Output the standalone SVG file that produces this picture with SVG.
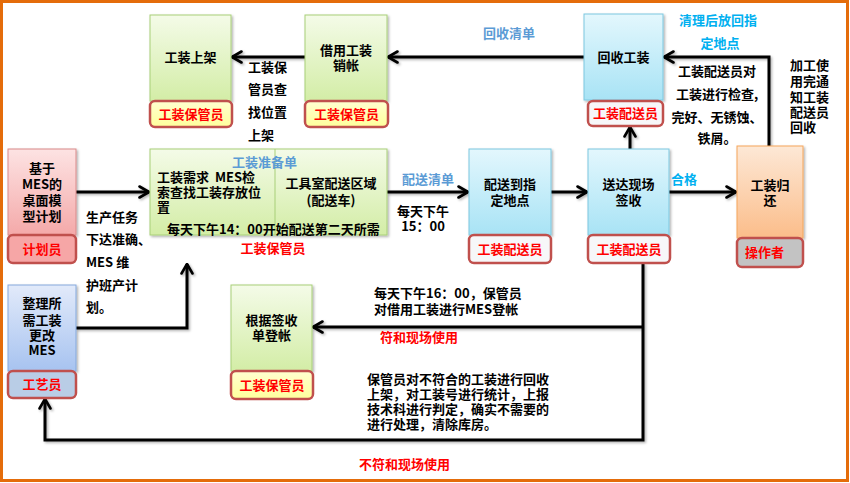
<svg xmlns="http://www.w3.org/2000/svg" width="850" height="483" viewBox="0 0 850 483">
<style>
text{font-family:"Noto Sans CJK SC","Liberation Sans",sans-serif;font-size:13px;font-weight:bold;fill:#000}
.c{text-anchor:middle}
.role{fill:#ff0000;text-anchor:middle}
.red{fill:#ff0000}
.lb{fill:#5b9bd5}
.cb{fill:#00b0f0}
.lbl{stroke:#c0504d;stroke-width:2.5}
.ln{fill:none;stroke:#000;stroke-width:3;marker-end:url(#ah)}
.g{fill:url(#gG);stroke:#a8cf78;stroke-width:1}
.b{fill:url(#gB);stroke:#7cc8e0;stroke-width:1}
.r{fill:url(#gR);stroke:#d98a8a;stroke-width:1}
.v{fill:url(#gV);stroke:#85a8dc;stroke-width:1}
.o{fill:url(#gO);stroke:#f5a65b;stroke-width:1}
</style>
<defs>
<linearGradient id="gG" x1="0" y1="0" x2="0" y2="1"><stop offset="0" stop-color="#f4fbe8"/><stop offset="1" stop-color="#d3eda6"/></linearGradient>
<linearGradient id="gB" x1="0" y1="0" x2="0" y2="1"><stop offset="0" stop-color="#e3f7fd"/><stop offset="1" stop-color="#a8e3f5"/></linearGradient>
<linearGradient id="gR" x1="0" y1="0" x2="0" y2="1"><stop offset="0" stop-color="#fde3e3"/><stop offset="1" stop-color="#f4a9a9"/></linearGradient>
<linearGradient id="gV" x1="0" y1="0" x2="0" y2="1"><stop offset="0" stop-color="#e2eafa"/><stop offset="1" stop-color="#a7c3f0"/></linearGradient>
<linearGradient id="gO" x1="0" y1="0" x2="0" y2="1"><stop offset="0" stop-color="#fde8d6"/><stop offset="1" stop-color="#fbbd8a"/></linearGradient>
<linearGradient id="gY" x1="0" y1="0" x2="0" y2="1"><stop offset="0" stop-color="#ffffd0"/><stop offset="1" stop-color="#ffff9c"/></linearGradient>
<filter id="sh" x="-10%" y="-10%" width="130%" height="130%"><feDropShadow dx="1.5" dy="1.5" stdDeviation="1.2" flood-color="#000" flood-opacity="0.3"/></filter>
<marker id="ah" viewBox="0 0 12 14" refX="11" refY="7" markerWidth="12" markerHeight="14" markerUnits="userSpaceOnUse" orient="auto">
<path d="M1.5,1.5 L11,7 L1.5,12.5" fill="none" stroke="#000" stroke-width="2.6" stroke-linejoin="round" stroke-linecap="round"/>
</marker>
</defs>
<rect x="0" y="0" width="850" height="483" fill="#fff"/>
<rect x="1.5" y="1.5" width="846" height="479" fill="none" stroke="#e46c0a" stroke-width="3"/>

<g id="connectors" filter="url(#sh)">
<path class="ln" d="M584,57 H388"/>
<path class="ln" d="M305,57 H232"/>
<path class="ln" d="M769,146 V57 H664"/>
<path class="ln" d="M630,149 V127"/>
<path class="ln" d="M76,192 H149"/>
<path class="ln" d="M387,192 H468"/>
<path class="ln" d="M551,192 H587"/>
<path class="ln" d="M669,192 H736"/>
<path class="ln" d="M643,263 V440 H45 V399"/>
<path class="ln" d="M643,327 H313"/>
<path class="ln" d="M76,328 H187 V264"/>
</g>

<g id="n-shangjia">
<rect class="g" x="150" y="15" width="81" height="86" filter="url(#sh)"/>
<text class="c" x="190.5" y="62">工装上架</text>
<rect class="lbl" x="150" y="101" width="82" height="26" rx="5" fill="url(#gY)"/>
<text class="role" x="191" y="119">工装保管员</text>
</g>

<g id="n-xiaozhang">
<rect class="g" x="305" y="15" width="82" height="86" filter="url(#sh)"/>
<text class="c" x="346" y="55">借用工装</text>
<text class="c" x="346" y="70">销帐</text>
<rect class="lbl" x="305" y="101" width="83" height="26" rx="5" fill="url(#gY)"/>
<text class="role" x="346.5" y="119">工装保管员</text>
</g>

<g id="n-huishou">
<rect class="b" x="584" y="14" width="79" height="86" filter="url(#sh)"/>
<text class="c" x="623.5" y="62">回收工装</text>
<rect class="lbl" x="588" y="101" width="75" height="25" rx="5" fill="#f7f7f9"/>
<text class="role" x="625.5" y="118">工装配送员</text>
</g>

<g id="n-plan">
<rect class="r" x="8" y="149" width="68" height="86" filter="url(#sh)"/>
<text class="c" x="42" y="173">基于</text>
<text class="c" x="42" y="189">MES的</text>
<text class="c" x="42" y="205">桌面模</text>
<text class="c" x="42" y="221">型计划</text>
<rect class="lbl" x="8" y="235" width="68" height="28" rx="5" fill="#f6a6a6"/>
<text class="role" x="42" y="254">计划员</text>
</g>

<g id="n-zhunbei">
<rect class="g" x="150" y="149" width="237" height="86" filter="url(#sh)"/>
<line x1="275" y1="149" x2="275" y2="235" stroke="#a8cf78" stroke-width="1"/>
<text class="lb" x="232" y="167">工装准备单</text>
<text x="157" y="182">工装需求&#160;&#160;MES检</text>
<text x="157" y="197">索查找工装存放位</text>
<text x="157" y="212">置</text>
<text class="c" x="331" y="188">工具室配送区域</text>
<text class="c" x="331" y="205">(配送车)</text>
<text x="167" y="234">每天下午14：00开始配送第二天所需</text>
<text class="role" x="273" y="253">工装保管员</text>
</g>

<g id="n-peisong">
<rect class="b" x="469" y="149" width="82" height="86" filter="url(#sh)"/>
<text class="c" x="510" y="189">配送到指</text>
<text class="c" x="510" y="205">定地点</text>
<rect class="lbl" x="469" y="235" width="82" height="28" rx="5" fill="#f7f7f9"/>
<text class="role" x="510" y="254">工装配送员</text>
</g>

<g id="n-qianshou">
<rect class="b" x="588" y="149" width="81" height="86" filter="url(#sh)"/>
<text class="c" x="628.5" y="189">送达现场</text>
<text class="c" x="628.5" y="205">签收</text>
<rect class="lbl" x="588" y="235" width="82" height="28" rx="5" fill="#f7f7f9"/>
<text class="role" x="629" y="254">工装配送员</text>
</g>

<g id="n-guihuan">
<rect class="o" x="737" y="146" width="66" height="92" filter="url(#sh)"/>
<text class="c" x="770" y="190">工装归</text>
<text class="c" x="770" y="205">还</text>
<rect class="lbl" x="737" y="238" width="66" height="29" rx="5" fill="#c3c3c3"/>
<text x="745" y="257" class="red">操作者</text>
</g>

<g id="n-gengai">
<rect class="v" x="8" y="285" width="68" height="86" filter="url(#sh)"/>
<text class="c" x="42" y="308">整理所</text>
<text class="c" x="42" y="325">需工装</text>
<text class="c" x="42" y="340">更改</text>
<text class="c" x="42" y="355">MES</text>
<rect class="lbl" x="8" y="371" width="68" height="27" rx="5" fill="#b9cde6"/>
<text class="role" x="42" y="389">工艺员</text>
</g>

<g id="n-dengzhang">
<rect class="g" x="231" y="285" width="81" height="86" filter="url(#sh)"/>
<text class="c" x="271.5" y="325">根据签收</text>
<text class="c" x="271.5" y="340">单登帐</text>
<rect class="lbl" x="231" y="371" width="82" height="28" rx="5" fill="url(#gY)"/>
<text class="role" x="272" y="390">工装保管员</text>
</g>

<g id="labels">
<text class="lb" x="483" y="38">回收清单</text>
<text class="cb c" x="718" y="25">清理后放回指</text>
<text class="cb c" x="720" y="48">定地点</text>
<text x="248" y="72">工装保</text>
<text x="248" y="94">管员查</text>
<text x="248" y="117">找位置</text>
<text x="248" y="140">上架</text>
<text class="c" x="717" y="76">工装配送员对</text>
<text class="c" x="717" y="99">工装进行检查,</text>
<text class="c" x="717" y="122">完好、无锈蚀、</text>
<text class="c" x="717" y="143">铁屑。</text>
<text x="790" y="70">加工使</text>
<text x="790" y="86">用完通</text>
<text x="790" y="102">知工装</text>
<text x="790" y="117">配送员</text>
<text x="790" y="132">回收</text>
<text class="lb" x="402" y="184">配送清单</text>
<text class="c" x="423" y="216">每天下午</text>
<text class="c" x="423" y="231">15：00</text>
<text class="cb" x="671" y="184">合格</text>
<text x="86" y="222">生产任务</text>
<text x="86" y="244">下达准确、</text>
<text x="86" y="267">MES 维</text>
<text x="86" y="290">护班产计</text>
<text x="86" y="312">划。</text>
<text x="374" y="298">每天下午16：00，保管员</text>
<text x="374" y="314">对借用工装进行MES登帐</text>
<text class="red" x="380" y="342">符和现场使用</text>
<text x="367" y="384">保管员对不符合的工装进行回收</text>
<text x="367" y="399">上架，对工装号进行统计，上报</text>
<text x="367" y="414">技术科进行判定，确实不需要的</text>
<text x="367" y="429">进行处理，清除库房。</text>
<text class="red" x="359" y="469">不符和现场使用</text>
</g>
</svg>
